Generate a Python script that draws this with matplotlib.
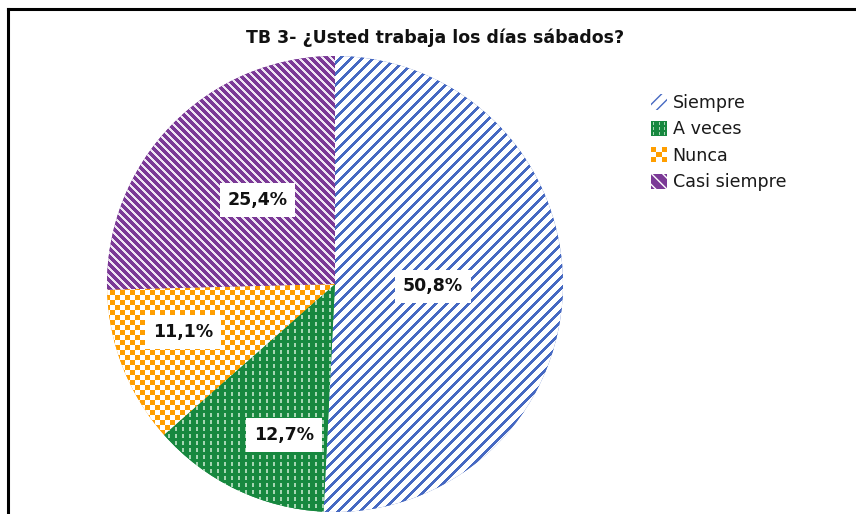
import numpy as np
import matplotlib
matplotlib.use("Agg")
import matplotlib.pyplot as plt
from matplotlib.patches import Rectangle, Patch
from matplotlib.legend_handler import HandlerBase

# data
categories = ["Siempre", "A veces", "Nunca", "Casi siempre"]
values = [50.8, 12.7, 11.1, 25.4]
title = "TB 3- ¿Usted trabaja los días sábados?"

blue = "#4669c2"
green = "#17883f"
green_dash = "#a6d6b3"
orange = "#ff9e00"
purple = "#7b3996"

W, H = 856, 514
fig = plt.figure(figsize=(W / 100, H / 100), dpi=100)
ax = fig.add_axes([0, 0, 1, 1])

cx, cy, R = 335, 230, 228  # centre / radius in pixels (y up)
wedges, _ = ax.pie(values, startangle=90, counterclock=False,
                   center=(cx, cy), radius=R,
                   colors=[blue, green, orange, purple],
                   wedgeprops=dict(linewidth=0))

# pixel textures clipped to each slice
yy, xx = np.mgrid[0:H, 0:W]
rgb = matplotlib.colors.to_rgb


def texture(mask, on, off):
    return np.where(mask[..., None], rgb(on), rgb(off))


textures = [
    texture((xx + yy) % 11 < 4, blue, "white"),                    # stripes /
    texture((xx % 7 < 2) & (yy % 7 < 4), green_dash, green),       # dashes
    texture((xx // 5 + yy // 5) % 2 == 0, orange, "white"),        # checker
    texture((xx - yy) % 8 < 3, "#efe6f3", purple),                 # stripes \
]
for tex, w in zip(textures, wedges):
    im = ax.imshow(tex, extent=(0, W, 0, H), origin="upper",
                   interpolation="nearest", zorder=w.get_zorder() + 0.1)
    im.set_clip_path(w)

# percentage labels
label_r = [0.43, 0.70, 0.70, 0.50]
label_shift = [0, 7, -4, -3]
for w, v, r, s in zip(wedges, values, label_r, label_shift):
    ang = np.deg2rad((w.theta1 + w.theta2) / 2 + s)
    ax.text(cx + r * R * np.cos(ang), cy + r * R * np.sin(ang),
            f"{v:.1f}".replace(".", ",") + "%",
            ha="center", va="center", fontsize=12.5, fontweight="bold",
            color="#111111", zorder=10,
            bbox=dict(boxstyle="square,pad=0.45", fc="white", ec="none"))

ax.text(435, H - 38, title, ha="center", va="center", fontsize=12.5,
        fontweight="bold", color="#111111")

# frame lines (top and left)
ax.plot([8, W], [H - 9, H - 9], color="black", lw=2.2, solid_capstyle="projecting")
ax.plot([8, 8], [0, H - 9], color="black", lw=2.2, solid_capstyle="projecting")


class TextureHandler(HandlerBase):
    def __init__(self, kind):
        super().__init__()
        self.kind = kind

    def create_artists(self, legend, orig_handle, xdescent, ydescent,
                       width, height, fontsize, trans):
        x0, y0 = -xdescent, -ydescent
        arts = []
        if self.kind == "checker":
            arts.append(Rectangle((x0, y0), width, height, fc="white",
                                  ec="none", transform=trans))
            n = 3
            cw, ch = width / n, height / n
            for i in range(n):
                for j in range(n):
                    if (i + j) % 2 == 0:
                        arts.append(Rectangle((x0 + i * cw, y0 + j * ch), cw, ch,
                                              fc=orange, ec="none", transform=trans))
        else:
            arts.append(Rectangle((x0, y0), width, height, fc=green,
                                  ec="none", transform=trans))
            for i in range(3):
                for j in range(3):
                    arts.append(Rectangle((x0 + (i + 0.4) * width / 3,
                                           y0 + (j + 0.25) * height / 3),
                                          width / 14, height / 6,
                                          fc=green_dash, ec="none", transform=trans))
        return arts


h_siempre = Patch(facecolor="white", edgecolor=blue, hatch="///", linewidth=0)
h_aveces = Patch(facecolor=green)
h_nunca = Patch(facecolor=orange)
h_casi = Patch(facecolor=purple, edgecolor="white", hatch="\\\\\\", linewidth=0)
leg = ax.legend([h_siempre, h_aveces, h_nunca, h_casi], categories,
                loc="upper left", bbox_to_anchor=(651 / W, 1 - 94 / H),
                bbox_transform=fig.transFigure, frameon=False,
                fontsize=12.6, handlelength=0.93, handleheight=0.95,
                handletextpad=0.3, labelspacing=0.48, borderpad=0,
                borderaxespad=0,
                handler_map={h_aveces: TextureHandler("dash"),
                             h_nunca: TextureHandler("checker")})
for t in leg.get_texts():
    t.set_color("#1a1a1a")

ax.set_xlim(0, W)
ax.set_ylim(0, H)
ax.set_aspect("auto")
ax.axis("off")

fig.savefig("out.png", dpi=100)
